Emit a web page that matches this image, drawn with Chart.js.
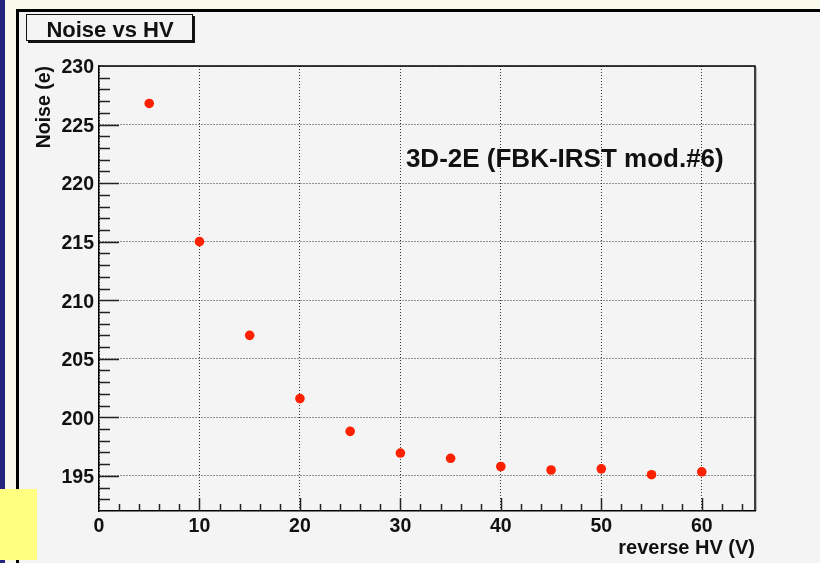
<!DOCTYPE html>
<html>
<head>
<meta charset="utf-8">
<script src="https://cdn.jsdelivr.net/npm/chart.js@4.4.1/dist/chart.umd.min.js"></script>
<style>
  html, body { margin: 0; padding: 0; background: #f4f4f4; }
  #noise { display: block; }
</style>
</head>
<body>
<canvas id="noise" width="820" height="563"></canvas>
<script>
// reverse bias voltage (V) and measured noise (e)
const hvVolts = [5, 10, 15, 20, 25, 30, 35, 40, 45, 50, 55, 60];
const noiseE = [226.8, 215.0, 207.0, 201.6, 198.8, 196.95, 196.5, 195.8, 195.5, 195.6, 195.1, 195.35];

const xTickValues = [0, 10, 20, 30, 40, 50, 60];
const yTickValues = [195, 200, 205, 210, 215, 220, 225, 230];

const boldFont = "'Liberation Sans', Arial, Helvetica, sans-serif";

// page background, ROOT-ish frame, inner ticks, title box and label
const rootStyle = {
  id: 'rootStyle',
  beforeDraw(chart) {
    const c = chart.ctx;
    c.save();
    c.fillStyle = '#f4f4f4';
    c.fillRect(0, 0, 820, 563);
    c.fillStyle = '#fafaec';
    c.fillRect(0, 0, 820, 10);
    c.fillRect(5, 0, 12, 563);
    c.fillStyle = '#25257f';
    c.fillRect(0, 0, 5, 563);
    c.fillStyle = '#000';
    c.fillRect(16, 9, 3, 554);
    c.fillRect(16, 9, 804, 3);
    c.fillStyle = '#ffff80';
    c.fillRect(0, 489, 37, 71);
    c.restore();
  },
  afterDraw(chart) {
    const c = chart.ctx;
    const xs = chart.scales.x, ys = chart.scales.y;
    const a = chart.chartArea;
    c.save();
    c.strokeStyle = '#222';
    c.lineWidth = 1.5;
    c.beginPath();
    // y ticks (inside)
    for (let v = 193; v <= 229; v++) {
      const py = Math.round(ys.getPixelForValue(v)) + 0.5;
      const len = yTickValues.includes(v) ? 20 : 11;
      c.moveTo(a.left, py);
      c.lineTo(a.left + len, py);
    }
    // x ticks (inside)
    for (let v = 2; v <= 64; v += 2) {
      const px = Math.round(xs.getPixelForValue(v)) + 0.5;
      const len = xTickValues.includes(v) ? 13 : 7;
      c.moveTo(px, a.bottom);
      c.lineTo(px, a.bottom - len);
    }
    c.stroke();
    // top and right frame
    c.strokeStyle = '#000';
    c.lineWidth = 1.5;
    c.beginPath();
    c.moveTo(a.left, a.top);
    c.lineTo(a.right, a.top);
    c.lineTo(a.right, a.bottom);
    c.stroke();
    c.strokeStyle = '#bbb';
    c.lineWidth = 1;
    c.beginPath();
    c.moveTo(a.right + 1.5, a.top + 1);
    c.lineTo(a.right + 1.5, a.bottom);
    c.stroke();

    // title box with shadow
    c.fillStyle = '#111';
    c.fillRect(28, 16, 167, 27);
    c.fillStyle = '#f4f4f4';
    c.fillRect(26, 14, 167, 27);
    c.strokeStyle = '#111';
    c.lineWidth = 1;
    c.strokeRect(26.5, 14.5, 166, 26);
    c.fillStyle = '#111';
    c.font = 'bold 22px ' + boldFont;
    c.textAlign = 'center';
    c.textBaseline = 'alphabetic';
    c.fillText('Noise vs HV', 110, 37);

    // sample label
    c.font = 'bold 26px ' + boldFont;
    c.textAlign = 'left';
    c.fillText('3D-2E (FBK-IRST mod.#6)', xs.getPixelForValue(30.55), ys.getPixelForValue(221.4));
    c.restore();
  }
};

const ctx = document.getElementById('noise');

new Chart(ctx, {
  type: 'scatter',
  data: {
    datasets: [
      {
        label: 'Noise vs HV',
        data: hvVolts.map((v, i) => ({ x: v, y: noiseE[i] })),
        backgroundColor: '#ff2000',
        borderColor: '#ff2000',
        pointRadius: 4.8,
        pointHoverRadius: 4.8,
        borderWidth: 0
      }
    ]
  },
  options: {
    responsive: false,
    animation: false,
    devicePixelRatio: 1,
    layout: { padding: { left: 33, top: 66, right: 65, bottom: 3 } },
    plugins: {
      legend: { display: false },
      tooltip: { enabled: false }
    },
    scales: {
      x: {
        type: 'linear',
        min: 0,
        max: 65.3,
        afterBuildTicks: (s) => { s.ticks = xTickValues.map(v => ({ value: v })); },
        afterFit: (s) => { s.height = 49; },
        grid: { color: '#333', lineWidth: 1, drawTicks: false },
        border: { display: true, color: '#000', width: 1.5, dash: [1, 2] },
        ticks: {
          color: '#111',
          padding: 4,
          maxRotation: 0,
          font: { family: boldFont, size: 19.5, weight: 'bold' }
        },
        title: {
          display: true,
          text: 'reverse HV (V)',
          align: 'end',
          color: '#111',
          padding: 0,
          font: { family: boldFont, size: 20, weight: 'bold' }
        }
      },
      y: {
        type: 'linear',
        min: 192,
        max: 230,
        afterBuildTicks: (s) => { s.ticks = yTickValues.map(v => ({ value: v })); },
        afterFit: (s) => { s.width = 66; },
        grid: { color: '#333', lineWidth: 1, drawTicks: false },
        border: { display: true, color: '#000', width: 1.5, dash: [1, 2] },
        ticks: {
          color: '#111',
          padding: 5,
          labelOffset: 2,
          font: { family: boldFont, size: 19.5, weight: 'bold' }
        },
        title: {
          display: true,
          text: 'Noise (e)',
          align: 'end',
          color: '#111',
          padding: 0,
          font: { family: boldFont, size: 19.5, weight: 'bold' }
        }
      }
    }
  },
  plugins: [rootStyle]
});
</script>
</body>
</html>
